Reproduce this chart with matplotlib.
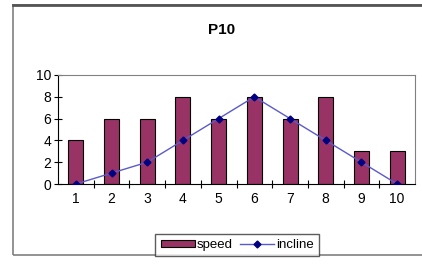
import matplotlib.pyplot as plt
from matplotlib.patches import Rectangle

plt.rcParams['font.family'] = ['Liberation Sans', 'DejaVu Sans']

categories = [1, 2, 3, 4, 5, 6, 7, 8, 9, 10]
speed = [4, 6, 6, 8, 6, 8, 6, 8, 3, 3]
incline = [0, 1, 2, 4, 6, 8, 6, 4, 2, 0]

fig = plt.figure(figsize=(4.22, 2.65), dpi=100)
fig.patches.append(Rectangle((13 / 422, 10 / 265), 420 / 422, 250 / 265,
                             transform=fig.transFigure, fill=False,
                             edgecolor='#808080', linewidth=1.2))
fig.add_artist(plt.Line2D([13 / 422, 1], [260 / 265, 260 / 265],
                          transform=fig.transFigure, color='#555555', lw=2))

ax = fig.add_axes([58 / 422, 81 / 265, 357 / 422, 109 / 265])
bars = ax.bar(categories, speed, width=0.42, color='#993366', edgecolor='black',
              linewidth=0.8, label='speed', zorder=2)
line, = ax.plot(categories, incline, color='#5a5acb', lw=1.0, marker='D',
                markersize=3.5, markerfacecolor='#000080', markeredgecolor='#000080',
                label='incline', zorder=3)

ax.set_xlim(0.5, 10.5)
ax.set_ylim(0, 10)
ax.set_yticks([0, 2, 4, 6, 8, 10])
ax.set_xticks(categories)
ax.set_xticks([c + 0.5 for c in categories[:-1]], minor=True)
ax.tick_params(axis='x', which='major', length=0, pad=6, labelsize=10)
ax.tick_params(axis='x', which='minor', length=6, direction='inout', width=0.8)
ax.tick_params(axis='y', length=6, direction='inout', width=0.8, labelsize=10, pad=2)

for side in ['top', 'right']:
    ax.spines[side].set_color('#808080')
    ax.spines[side].set_linewidth(0.8)
ax.spines['left'].set_linewidth(0.8)
ax.spines['bottom'].set_linewidth(0.8)

fig.text(222 / 422, 1 - 30 / 265, 'P10', ha='center', va='center',
         fontsize=11, fontweight='bold')

leg = fig.legend([bars, line], ['speed', 'incline'], loc='center',
                 bbox_to_anchor=(237 / 422, 1 - 245 / 265),
                 ncol=2, fontsize=9.5, frameon=True, fancybox=False,
                 edgecolor='#333333', handlelength=2.6, handleheight=0.5,
                 handletextpad=0.1, columnspacing=0.6, borderpad=0.4)
leg.get_frame().set_linewidth(1.0)

fig.savefig('out.png', dpi=100)
